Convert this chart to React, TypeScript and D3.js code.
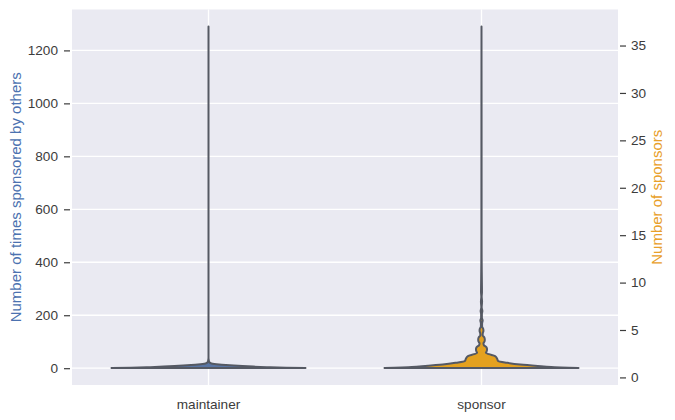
import React, { useEffect, useRef } from "react";
import * as d3 from "d3";

// x categories
const categories = ["maintainer", "sponsor"];

// tick values
const leftTicks = [0, 200, 400, 600, 800, 1000, 1200];
const rightTicks = [0, 5, 10, 15, 20, 25, 30, 35];

// min / max of each distribution
const maintainerExtent: [number, number] = [1, 1290];
const sponsorExtent: [number, number] = [1, 37];

// violin outlines: value level -> relative width (1 = widest)
const maintainerLevels = [1, 2, 4, 6, 8, 10, 12, 14, 16, 18, 22, 30, 40, 1290];
const maintainerDensity = [1, 0.8, 0.6, 0.46, 0.35, 0.26, 0.18, 0.11, 0.06, 0.03, 0.01, 0.003, 0, 0];

const sponsorLevels = [
  1, 1.02, 1.1, 1.2, 1.35, 1.55, 1.75, 2.0, 2.25, 2.45, 2.6, 2.8, 3.0, 3.2, 3.4, 3.6, 3.8, 4.0,
  4.2, 4.45, 4.7, 4.9, 5.1, 5.4, 5.7, 6.0, 6.3, 6.7, 7.0, 7.4, 8, 8.5, 9, 10, 12, 15, 20, 37,
];
const sponsorDensity = [
  1, 0.9, 0.72, 0.58, 0.4, 0.26, 0.17, 0.16, 0.14, 0.075, 0.045, 0.055, 0.057, 0.05, 0.025, 0.02,
  0.032, 0.034, 0.03, 0.012, 0.014, 0.02, 0.018, 0.006, 0.006, 0.012, 0.004, 0.004, 0.009, 0.002,
  0.006, 0.002, 0.005, 0.004, 0.002, 0.001, 0.001, 0,
];

const W = 675;
const H = 420;
const FONT = "'Liberation Sans', Arial, sans-serif";
const TEXT = "#3c3c3c";

const Chart: React.FC = () => {
  const svgRef = useRef<SVGSVGElement>(null);

  useEffect(() => {
    if (!svgRef.current) return;
    const svg = d3.select(svgRef.current);
    svg.selectAll("*").remove();

    // plot area
    const left = 72;
    const right = 618;
    const top = 9.5;
    const bottom = 385;

    const x = d3.scaleLinear().domain([-0.5, 1.5]).range([left, right]);
    const pad = (e: [number, number]) => {
      const m = (e[1] - e[0]) * 0.05;
      return [e[0] - m, e[1] + m];
    };
    const yLeft = d3.scaleLinear().domain(pad(maintainerExtent)).range([bottom, top]);
    const yRight = d3.scaleLinear().domain(pad(sponsorExtent)).range([bottom, top]);
    const halfWidth = 97;

    // background
    svg
      .append("rect")
      .attr("x", left)
      .attr("y", top)
      .attr("width", right - left)
      .attr("height", bottom - top)
      .attr("fill", "#eaeaf2");

    // grid
    const grid = svg.append("g");
    grid
      .selectAll("line.h")
      .data(leftTicks)
      .enter()
      .append("line")
      .attr("x1", left)
      .attr("x2", right)
      .attr("y1", (d) => yLeft(d))
      .attr("y2", (d) => yLeft(d))
      .attr("stroke", "white")
      .attr("stroke-width", 1.3);
    grid
      .selectAll("line.v")
      .data(categories)
      .enter()
      .append("line")
      .attr("x1", (_, i) => x(i))
      .attr("x2", (_, i) => x(i))
      .attr("y1", top)
      .attr("y2", bottom)
      .attr("stroke", "white")
      .attr("stroke-width", 1.3);

    // violins
    const stroke = "#555963";
    const drawViolin = (
      levels: number[],
      dens: number[],
      cx: number,
      y: d3.ScaleLinear<number, number>,
      fill: string
    ) => {
      const pts = levels.map((v, i) => ({ v, w: dens[i] }));
      const area = d3
        .area<{ v: number; w: number }>()
        .y((d) => y(d.v))
        .x0((d) => cx - d.w * halfWidth)
        .x1((d) => cx + d.w * halfWidth)
        .curve(d3.curveMonotoneY);
      svg
        .append("path")
        .datum(pts)
        .attr("d", area)
        .attr("fill", fill)
        .attr("stroke", stroke)
        .attr("stroke-width", 2)
        .attr("stroke-linejoin", "round");
    };
    drawViolin(maintainerLevels, maintainerDensity, x(0), yLeft, "#5975a4");
    drawViolin(sponsorLevels, sponsorDensity, x(1), yRight, "#e4a11f");

    // left axis
    const la = svg
      .append("g")
      .attr("transform", `translate(70,0)`)
      .call(
        d3
          .axisLeft(yLeft)
          .tickValues(leftTicks)
          .tickFormat(d3.format("d"))
          .tickSize(6)
          .tickPadding(6)
      );
    la.select(".domain").remove();
    la.selectAll("line").attr("stroke", TEXT).attr("stroke-width", 1.2);
    la.selectAll("text")
      .attr("fill", TEXT)
      .style("font-family", FONT)
      .style("font-size", "13.6px");

    // right axis
    const ra = svg
      .append("g")
      .attr("transform", `translate(620,0)`)
      .call(
        d3
          .axisRight(yRight)
          .tickValues(rightTicks)
          .tickFormat(d3.format("d"))
          .tickSize(6)
          .tickPadding(5)
      );
    ra.select(".domain").remove();
    ra.selectAll("line").attr("stroke", TEXT).attr("stroke-width", 1.2);
    ra.selectAll("text")
      .attr("fill", TEXT)
      .style("font-family", FONT)
      .style("font-size", "13.6px");

    // category labels
    svg
      .selectAll("text.cat")
      .data(categories)
      .enter()
      .append("text")
      .attr("x", (_, i) => x(i))
      .attr("y", 409)
      .attr("text-anchor", "middle")
      .attr("fill", TEXT)
      .style("font-family", FONT)
      .style("font-size", "13.6px")
      .text((d) => d);

    // axis titles
    svg
      .append("text")
      .attr("transform", `translate(20.5, ${(top + bottom) / 2}) rotate(-90)`)
      .attr("text-anchor", "middle")
      .attr("fill", "#4c72b0")
      .style("font-family", FONT)
      .style("font-size", "15px")
      .text("Number of times sponsored by others");

    svg
      .append("text")
      .attr("transform", `translate(662, ${(top + bottom) / 2}) rotate(-90)`)
      .attr("text-anchor", "middle")
      .attr("fill", "#e8a02a")
      .style("font-family", FONT)
      .style("font-size", "15px")
      .text("Number of sponsors");
  }, []);

  return (
    <svg
      ref={svgRef}
      width={W}
      height={H}
      style={{ position: "absolute", left: 0, top: 0, background: "white" }}
    />
  );
};

export default function App() {
  return <Chart />;
}
